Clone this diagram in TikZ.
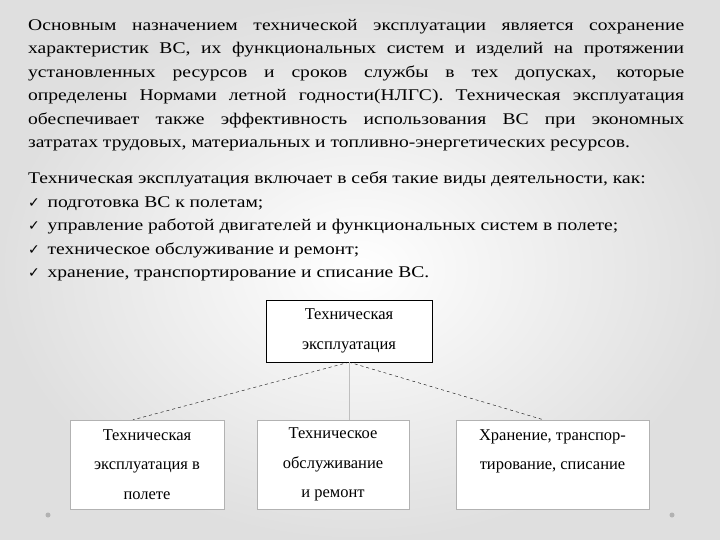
\documentclass[tikz,border=0pt]{standalone}
\usepackage{fontspec}
\setmainfont{Liberation Serif}
\newfontfamily\bodyf[FakeStretch=1.2]{Liberation Serif}
\newfontfamily\symf{DejaVu Sans}
\begin{document}
\begin{tikzpicture}[x=1pt,y=-1pt,
  box/.style={draw=#1,fill=white,minimum width=0pt,inner sep=0pt,align=center,font=\fontsize{16.5}{29.5}\selectfont},
  box/.default=black]
\useasboundingbox (0,0) rectangle (720,540);
\shade[inner color=white,outer color=gray!25] (0,0) rectangle (720,540);
\node[anchor=north west,inner sep=0pt] (p1) at (28,19) {\parbox{656pt}{\bodyf\fontsize{16.3}{23.5}\selectfont
Основным назначением технической эксплуатации является сохранение\linebreak
характеристик ВС, их функциональных систем и изделий на протяжении\linebreak
установленных ресурсов и сроков службы в тех допусках, которые\linebreak
определены Нормами летной годности(НЛГС). Техническая эксплуатация\linebreak
обеспечивает также эффективность использования ВС при экономных\linebreak
затратах трудовых, материальных и топливно-энергетических ресурсов.}};
\node[anchor=north west,inner sep=0pt] (p2) at (28,172) {\parbox{656pt}{\bodyf\fontsize{16.3}{23.5}\selectfont
Техническая эксплуатация включает в себя такие виды деятельности, как:\par
{\symf\fontsize{14}{23.5}\selectfont ✓}\, подготовка ВС к полетам;\par
{\symf\fontsize{14}{23.5}\selectfont ✓}\, управление работой двигателей и функциональных систем в полете;\par
{\symf\fontsize{14}{23.5}\selectfont ✓}\, техническое обслуживание и ремонт;\par
{\symf\fontsize{14}{23.5}\selectfont ✓}\, хранение, транспортирование и списание ВС.}};
\node[box,minimum width=166pt,minimum height=62pt] (top) at (349,331) {Техническая\\эксплуатация};
\node[box=gray!60,minimum width=154pt,minimum height=89pt] (l) at (147,464.5) {Техническая\\эксплуатация в\\полете};
\node[box=gray!60,minimum width=152pt,minimum height=89pt] (m) at (333,464.5) {Техническое\\обслуживание\\и ремонт};
\node[box=gray!60,minimum width=193pt,minimum height=89pt] (r) at (552.5,464.5) {Хранение, транспор-\\тирование, списание\\\phantom{полете}};
\draw[dashed,thin] (top.south) -- ([xshift=-14pt]l.north);
\draw[dashed,thin] (top.south) -- ([xshift=-9pt]r.north);
\draw[gray!50] (top.south) -- (top.south |- m.north);
\fill[gray!60] (48,515) circle (2.5);
\fill[gray!60] (672,515) circle (2.5);
\end{tikzpicture}
\end{document}
